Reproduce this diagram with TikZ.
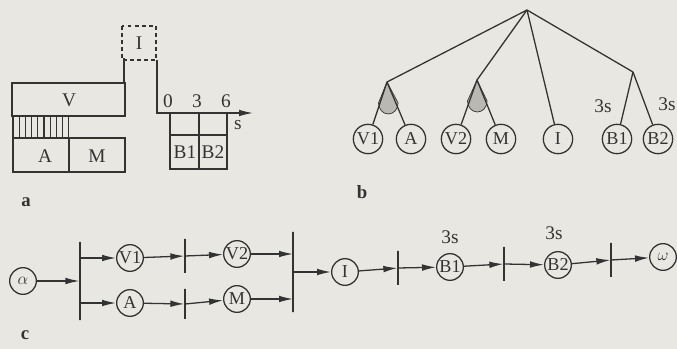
\documentclass[tikz,border=0pt]{standalone}
\usepackage{fontspec}
\setmainfont{Liberation Serif}
\usepackage{tikz}
\usetikzlibrary{positioning,arrows.meta,calc}
\definecolor{paper}{HTML}{E8E7E2}
\definecolor{ink}{HTML}{333333}
\definecolor{shade}{HTML}{B9B8B3}

\begin{document}
\begin{tikzpicture}[
      x=0.03cm, y=-0.03cm, line width=1.1pt, color=ink,
      lab/.style={font=\fontsize{16.5}{18}\selectfont, inner sep=0pt},
      part/.style={font=\fontsize{16}{18}\selectfont\bfseries, inner sep=0pt},
      tnode/.style={circle, draw, inner sep=0pt, minimum size=8.8mm,
                    font=\fontsize{15.5}{17}\selectfont},
      cnode/.style={circle, draw, inner sep=0pt, minimum size=8mm,
                    font=\fontsize{15.5}{17}\selectfont},
      bar/.style={rectangle, draw, inner sep=0pt, minimum width=0pt,
                  minimum height=#1*0.3mm},
      arr/.style={-{Latex[length=4.2mm, width=2mm]}},
    ]
    \fill[paper] (0,0) rectangle (677,349);

    % a
    \draw (12,83) rectangle (125,116);
    \node[lab] (vlab) at (69,100) {V};
    \foreach \i in {0,...,9}
      \draw ({13+\i*6.2},116) -- ({13+\i*6.2},138);
    \draw (13,138) rectangle (125,172);
    \draw (69,138) -- (69,172);
    \node[lab] (alab) at (45,156) {A};
    \node[lab] (mlab) at (97,156) {M};
    \draw (124,83) -- (124,58);
    \draw[dashed] (122,26) rectangle (156,60);
    \node[lab] (ilab) at (139,43) {I};
    \draw[arr] (157,60) -- (157,113) -- (253,113);
    \node[lab] (t0) at (168,101) {0};
    \node[lab] (t3) at (197,101) {3};
    \node[lab] (t6) at (226,101) {6};
    \node[lab] (s) at (238,125) {s};
    \draw (170,113) rectangle (227,169);
    \draw (170,135) -- (227,135);
    \draw (199,113) -- (199,169);
    \node[lab] (b1lab) at (185,152) {B1};
    \node[lab] (b2lab) at (213,152) {B2};
    \node[part] (pa) at (26,202) {a};

    % b
    \coordinate (root) at (527,10);
    \coordinate (f1) at (387,82);
    \coordinate (f2) at (477,80);
    \coordinate (f3) at (633,72);
    \node[tnode] (v1b) at (368,139) {V1};
    \node[tnode] (ab) at (411,139) {A};
    \node[tnode] (v2b) at (456,139) {V2};
    \node[tnode] (mb) at (501,139) {M};
    \node[tnode] (ib) at (558,139) {I};
    \node[tnode] (b1b) at (617,139) {B1};
    \node[tnode] (b2b) at (658,139) {B2};
    \filldraw[fill=shade, line width=0.6pt] (f1) -- (378.5,103)
      arc[start angle=180, end angle=0, x radius=9.8, y radius=11] -- cycle;
    \filldraw[fill=shade, line width=0.6pt] (f2) -- (467.5,101)
      arc[start angle=180, end angle=0, x radius=9.8, y radius=11] -- cycle;
    \draw (root) -- (f1);
    \draw (root) -- (f2);
    \draw (root) -- (ib);
    \draw (root) -- (f3);
    \draw (f1) -- (v1b);
    \draw (f1) -- (ab);
    \draw (f2) -- (v2b);
    \draw (f2) -- (mb);
    \draw (f3) -- (b1b);
    \draw (f3) -- (b2b);
    \node[lab] (d1) at (603,106) {3s};
    \node[lab] (d2) at (667,104) {3s};
    \node[part] (pb) at (362,192) {b};

    % c
    \node[cnode] (alpha) at (23,281) {$\alpha$};
    \node[bar=78] (j1) at (80,281) {};
    \node[cnode] (v1c) at (130,258) {V1};
    \node[cnode] (ac) at (130,303) {A};
    \node[bar=34] (j2u) at (185,256) {};
    \node[bar=30] (j2l) at (185,304) {};
    \node[cnode] (v2c) at (237,254) {V2};
    \node[cnode] (mc) at (237,299) {M};
    \node[bar=80] (j3) at (293,272) {};
    \node[cnode] (ic) at (345,272) {I};
    \node[bar=34] (k1) at (398,268) {};
    \node[cnode] (b1c) at (450,267) {B1};
    \node[bar=34] (k2) at (504,264) {};
    \node[cnode] (b2c) at (558,265) {B2};
    \node[bar=34] (k3) at (611,260) {};
    \node[cnode] (omega) at (663,257) {$\omega$};
    \node[lab] (e1) at (450,237) {3s};
    \node[lab] (e2) at (554,233) {3s};
    \draw[arr] (alpha) -- (j1);
    \draw[arr] (j1 |- v1c) -- (v1c);
    \draw[arr] (j1 |- ac) -- (ac);
    \draw[arr] (v1c) -- (j2u);
    \draw[arr] (ac) -- (j2l);
    \draw[arr] (j2u) -- (v2c);
    \draw[arr] (j2l) -- (mc);
    \draw[arr] (v2c) -- (v2c -| j3);
    \draw[arr] (mc) -- (mc -| j3);
    \draw[arr] (j3) -- (ic);
    \draw[arr] (ic) -- (k1);
    \draw[arr] (k1) -- (b1c);
    \draw[arr] (b1c) -- (k2);
    \draw[arr] (k2) -- (b2c);
    \draw[arr] (b2c) -- (k3);
    \draw[arr] (k3) -- (omega);
    \node[part] (pc) at (25,335) {c};
  \end{tikzpicture}
\end{document}
